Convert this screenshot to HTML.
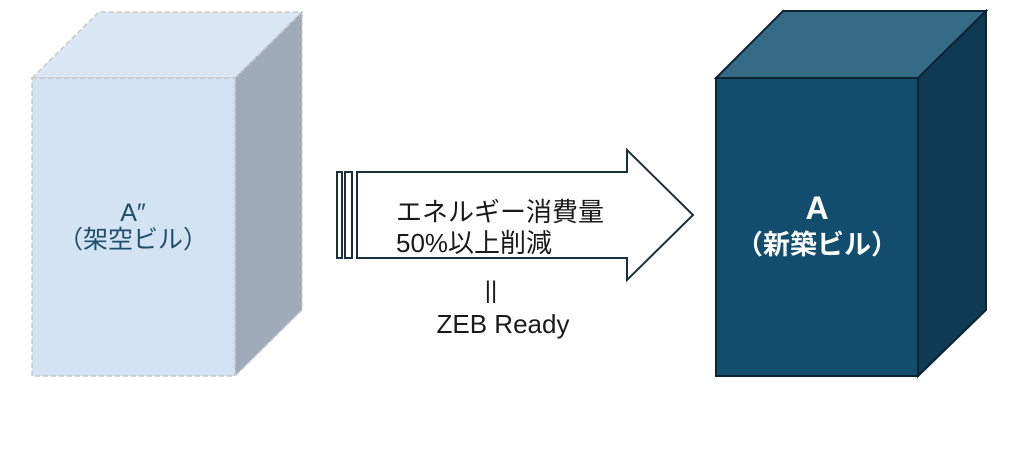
<!DOCTYPE html>
<html><head><meta charset="utf-8"><style>
html,body{margin:0;padding:0;background:#fff;}
svg{display:block;}
text{font-family:"Liberation Sans","Noto Sans CJK JP",sans-serif;}
</style></head><body>
<svg width="1024" height="450" viewBox="0 0 1024 450" xmlns="http://www.w3.org/2000/svg">
<polygon points="32,78 99,12 302,12 235,78" fill="#dae7f4" stroke="#c8c8c8" stroke-width="1.5" stroke-dasharray="5,3"/>
<polygon points="235,78 302,12 302,310 235,376" fill="#a0abb9" stroke="#c8c8c8" stroke-width="1.5" stroke-dasharray="5,3"/>
<rect x="32" y="78" width="203" height="298" fill="#d3e3f3" stroke="#c8c8c8" stroke-width="1.5" stroke-dasharray="5,3"/>
<text x="133" y="221" text-anchor="middle" font-size="25" fill="#1f4e6b">A″</text>
<text x="133" y="248" text-anchor="middle" font-size="25" fill="#1f4e6b">（架空ビル）</text>
<g fill="#fff" stroke="#1a2f3c" stroke-width="2">
<rect x="337" y="172" width="5" height="86"/>
<rect x="345" y="172" width="7" height="86"/>
<polygon points="357,172 627,172 627,150 693,215 627,280 627,258 357,258"/>
</g>
<text x="396" y="221" font-size="26" fill="#1a1a1a">エネルギー消費量</text>
<text x="396" y="252" font-size="26" fill="#1a1a1a">50%以上削減</text>
<text x="491" y="298" text-anchor="middle" font-size="24" fill="#1a1a1a">||</text>
<text x="503" y="333" text-anchor="middle" font-size="26" fill="#1a1a1a">ZEB Ready</text>
<polygon points="716,78 783,11 986,11 918,78" fill="#356b86" stroke="#0c2431" stroke-width="2"/>
<polygon points="918,78 986,11 986,310 918,376" fill="#0f3a53" stroke="#0c2431" stroke-width="2"/>
<rect x="716" y="78" width="202" height="298" fill="#124d6e" stroke="#0c2431" stroke-width="2"/>
<text x="817" y="219" text-anchor="middle" font-size="32" font-weight="bold" fill="#fff">A</text>
<text x="817" y="254" text-anchor="middle" font-size="27" font-weight="bold" fill="#fff">（新築ビル）</text>
</svg>
</body></html>
